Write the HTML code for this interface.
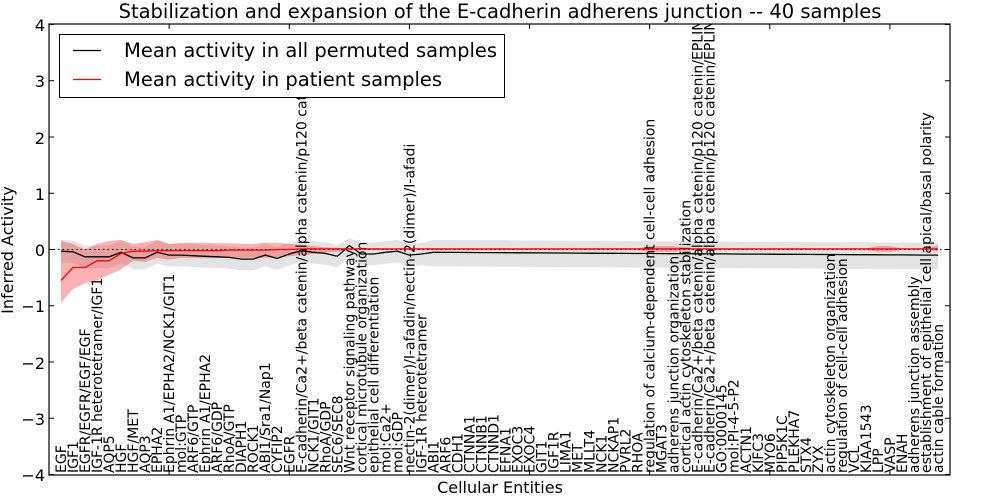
<!DOCTYPE html>
<html><head><meta charset="utf-8"><style>
html,body{margin:0;padding:0;background:#fff;}
svg{display:block;font-family:"DejaVu Sans","Liberation Sans",sans-serif;}
</style></head><body>
<svg id="s" width="1000" height="500" viewBox="0 0 1000 500" xmlns="http://www.w3.org/2000/svg">
<defs><clipPath id="ax"><rect x="49" y="24" width="901" height="451"/></clipPath></defs>
<rect width="1000" height="500" fill="#fff"/>
<g id="bands" clip-path="url(#ax)"></g>
<g id="labels" clip-path="url(#ax)" font-size="14" fill="#000"></g>
<line x1="49" y1="249.5" x2="950" y2="249.5" stroke="#000" stroke-dasharray="1.5,3" stroke-width="1"/>
<g id="lines" clip-path="url(#ax)"></g>
<rect x="49" y="24" width="901" height="451" fill="none" stroke="#000" stroke-width="1.2"/>
<g id="ticks" stroke="#000" stroke-width="1"></g>
<g font-size="16" text-anchor="end">
<text x="45" y="31">4</text><text x="45" y="87">3</text><text x="45" y="144">2</text><text x="45" y="200">1</text><text x="45" y="256">0</text>
<text x="45" y="312">−1</text><text x="45" y="369">−2</text><text x="45" y="425">−3</text><text x="45" y="481">−4</text>
</g>
<text x="500" y="18" font-size="19.5" text-anchor="middle">Stabilization and expansion of the E-cadherin adherens junction -- 40 samples</text>
<text x="500" y="493" font-size="16" text-anchor="middle">Cellular Entities</text>
<text transform="translate(13,250) rotate(-90)" font-size="16" text-anchor="middle">Inferred Activity</text>
<rect x="59.5" y="34.5" width="445" height="63" fill="#fff" stroke="#000" stroke-width="1"/>
<line x1="73" y1="50.5" x2="101" y2="50.5" stroke="#000" stroke-width="1.2"/>
<line x1="73" y1="79.5" x2="101" y2="79.5" stroke="#f00" stroke-width="1.2"/>
<text x="124" y="57" font-size="19.5">Mean activity in all permuted samples</text>
<text x="124" y="86" font-size="19.5">Mean activity in patient samples</text>
</svg>
<script>
var NS="http://www.w3.org/2000/svg";
var L=["EGF","IGF1","EGFR/EGFR/EGF/EGF","IGF-1R heterotetramer/IGF1","AQP5","HGF","HGF/MET","AQP3","EPHA2","Ephrin A1/EPHA2/NCK1/GIT1","mol:GTP","ARF6/GTP","Ephrin A1/EPHA2","ARF6/GDP","RhoA/GTP","DIAPH1","ROCK1","ABI1/Sra1/Nap1","CYFIP2","EGFR","E-cadherin/Ca2+/beta catenin/alpha catenin/p120 cat","NCK1/GIT1","RhoA/GDP","SEC6/SEC8","Wnt receptor signaling pathway","cortical microtubule organization","epithelial cell differentiation","mol:Ca2+","mol:GDP","nectin-2(dimer)/I-afadin/nectin-2(dimer)/I-afadi","IGF-1R heterotetramer","ABI1","ARF6","CDH1","CTNNA1","CTNNB1","CTNND1","EFNA1","EXOC3","EXOC4","GIT1","IGF1R","LIMA1","MET","MLLT4","NCK1","NCKAP1","PVRL2","RHOA","regulation of calcium-dependent cell-cell adhesion","MGAT3","adherens junction organization","cortical actin cytoskeleton stabilization","E-cadherin/Ca2+/beta catenin/alpha catenin/p120 catenin/EPLIN","E-cadherin/Ca2+/beta catenin/alpha catenin/p120 catenin/EPLIN/ACTN1","GO:0000145","mol:PI-4-5-P2","ACTN1","KIFC3","MYO6","PIP5K1C","PLEKHA7","STX4","ZYX","actin cytoskeleton organization","regulation of cell-cell adhesion","VCL","KIAA1543","LPP","VASP","ENAH","adherens junction assembly","establishment of epithelial cell apical/basal polarity","actin cable formation"];
function X(i){return 49+12.013*i;}
function Y(v){return 249.5-56.25*v;}
var n=74,blk=[],red=[],gu=[],gl=[],ru=[],rl=[];
var b0=[-0.03,-0.04,-0.13,-0.13,-0.13,-0.05,-0.15,-0.15,-0.05,-0.1,-0.1,-0.11,-0.12,-0.13,-0.14,-0.17,-0.17,-0.1,-0.16,-0.08,-0.02,-0.05,-0.07,-0.12,0.07,-0.08,-0.08,-0.05,-0.03,-0.1,-0.08];
var r0=[-0.55,-0.32,-0.32,-0.2,-0.2,-0.07,-0.03,-0.03,-0.02,-0.02,-0.02,-0.02,-0.02,-0.02,-0.01,-0.01,-0.01,-0.01,0,0];
var ru0=[0.15,0.1,0.0,0.1,0.15,0.17,0.1,0.13,0.17,0.1,0.12,0.12,0.12,0.11,0.11,0.1,0.1,0.12,0.12,0.1,0.08,0.06,0.04,0.03];
var rl0=[-0.95,-0.7,-0.6,-0.55,-0.45,-0.35,-0.2,-0.22,-0.15,-0.18,-0.15,-0.15,-0.15,-0.15,-0.15,-0.15,-0.15,-0.15,-0.14,-0.12,-0.1,-0.08,-0.05,-0.04];
for(var i=0;i<n;i++){
 var b=i<b0.length?b0[i]:(-0.05-0.05*(i-31)/42);
 blk.push(b);
 var r=i<r0.length?r0[i]:0.01;red.push(r);
 var hw=i<31?0.2:0.22;
 gu.push(i==24?0.2:(b+hw>0.17?0.17:b+hw));gl.push(b-hw-(i>30?0.03:0));
 var u=i<ru0.length?ru0[i]:0.02,l=i<rl0.length?rl0[i]:-0.01;
 if(i>=49&&i<=51){u=0.06;l=-0.04;}
 if(i>=68&&i<=69){u=0.06;l=-0.04;}
 if(i==73){u=0.07;l=-0.03;}
 ru.push(u);rl.push(l);
}
function poly(up,lo,fill){var p=[];for(var i=0;i<n;i++)p.push(X(i+1).toFixed(1)+","+Y(up[i]).toFixed(1));for(var i=n-1;i>=0;i--)p.push(X(i+1).toFixed(1)+","+Y(lo[i]).toFixed(1));var e=document.createElementNS(NS,"polygon");e.setAttribute("points",p.join(" "));e.setAttribute("fill",fill);return e;}
function line(v,c){var p=[];for(var i=0;i<n;i++)p.push(X(i+1).toFixed(1)+","+Y(v[i]).toFixed(1));var e=document.createElementNS(NS,"polyline");e.setAttribute("points",p.join(" "));e.setAttribute("fill","none");e.setAttribute("stroke",c);e.setAttribute("stroke-width","1.3");return e;}
var B=document.getElementById("bands");
B.appendChild(poly(gu,gl,"rgba(200,200,200,0.5)"));
B.appendChild(poly(ru,rl,"rgba(240,60,60,0.4)"));
var Ln=document.getElementById("lines");
Ln.appendChild(line(blk,"#000"));Ln.appendChild(line(red,"#f00"));
var G=document.getElementById("labels");
for(var i=0;i<L.length;i++){var t=document.createElementNS(NS,"text");t.setAttribute("transform","translate("+(X(i+1)+5).toFixed(1)+",473) rotate(-90)");t.textContent=L[i];G.appendChild(t);}
var T=document.getElementById("ticks");
function tk(x1,y1,x2,y2){var e=document.createElementNS(NS,"line");e.setAttribute("x1",x1);e.setAttribute("y1",y1);e.setAttribute("x2",x2);e.setAttribute("y2",y2);T.appendChild(e);}
for(var k=-4;k<=4;k++){var y=Y(k);tk(49,y,54,y);tk(945,y,950,y);}
for(var k=10;k<75;k+=10){var x=X(k);tk(x,24,x,29);tk(x,470,x,475);}
</script>
</body></html>
